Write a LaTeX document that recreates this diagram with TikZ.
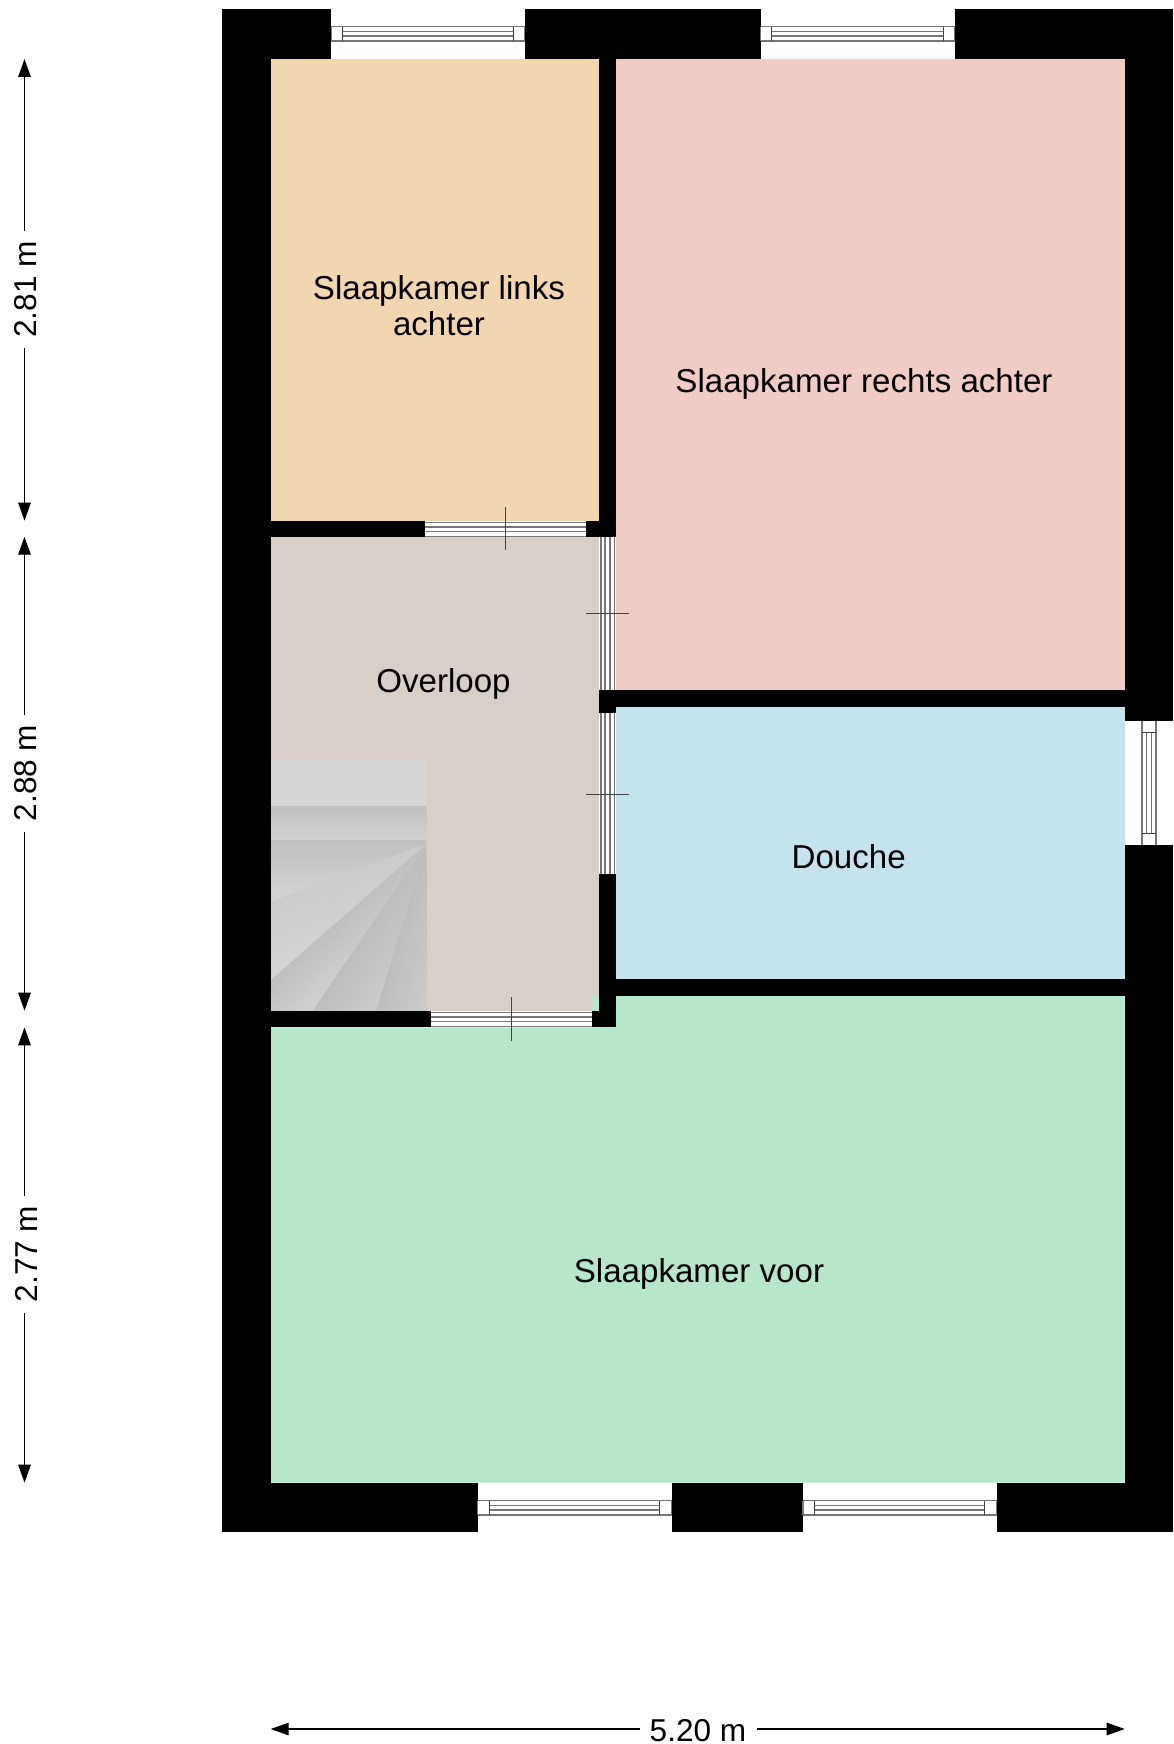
\documentclass[tikz,border=0pt]{standalone}
\usepackage{fontspec}
\setmainfont{Liberation Sans}
\usetikzlibrary{arrows.meta}
\definecolor{cLinks}{HTML}{F1D7AF}
\definecolor{cRechts}{HTML}{EFCCC6}
\definecolor{cOver}{HTML}{D8CFC9}
\definecolor{cDouche}{HTML}{C5E3EC}
\definecolor{cVoor}{HTML}{B6E7CB}
\definecolor{cLine}{HTML}{777777}
\definecolor{cTick}{HTML}{444444}
\definecolor{gLand}{HTML}{D5D5D5}
\definecolor{gA}{HTML}{C0C0C0}
\definecolor{gB}{HTML}{D1D1D1}
\definecolor{gC}{HTML}{CBCBCB}
\definecolor{gD}{HTML}{D4D4D4}
\definecolor{gE}{HTML}{BEBEBE}
\definecolor{gF}{HTML}{CCCCCC}
\tikzset{
  x=1pt,y=-1pt,
  wallbox/.style={fill=black,draw=none},
  roomlabel/.style={font=\fontsize{33.1}{36.5}\selectfont,align=center,text=black,inner sep=0pt},
  dimlabel/.style={font=\fontsize{31.6}{36}\selectfont,text=black,inner xsep=10pt,inner ysep=0pt},
  dimline/.style={draw=black,line width=1.3pt},
  dimtip/.style={{Stealth[length=18pt,width=12.5pt,inset=0pt]}-},
  winline/.style={draw=cLine,line width=1.1pt},
  winend/.style={draw=cTick,line width=1pt},
  doorline/.style={draw=cLine,line width=1.5pt},
  ticklin/.style={draw=cTick,line width=1pt},
}
% horizontal window: x1 x2 ix1 ix2 y1
\newcommand{\hwin}[5]{%
  \draw[winline] (#1,#5) -- (#2,#5) (#1,#5+14.3) -- (#2,#5+14.3);
  \draw[winline] (#3,#5+4.6) -- (#4,#5+4.6) (#3,#5+9.3) -- (#4,#5+9.3);
  \draw[winend] (#3,#5) -- (#3,#5+14.3) (#4,#5) -- (#4,#5+14.3);
  \draw[winline] (#1,#5) -- (#1,#5+14.3) (#2,#5) -- (#2,#5+14.3);
}
% door, horizontal: x1 x2 y1
\newcommand{\hdoor}[3]{%
  \fill[white] (#1,#3) rectangle (#2,#3+16.5);
  \foreach \o in {1.7,6.2,10.9,15.6} \draw[doorline] (#1,#3+\o) -- (#2,#3+\o);
}
% door, vertical: x1 y1 y2
\newcommand{\vdoor}[3]{%
  \fill[white] (#1,#2) rectangle (#1+16.5,#3);
  \foreach \o in {1.5,5.8,10.8,15.4} \draw[doorline] (#1+\o,#2) -- (#1+\o,#3);
}
% stair step drawn as bands: polygon, origin, edge angle, depth, dark, light
\newcommand{\bandstep}[6]{%
  \begin{scope}
    \clip #1 -- cycle;
    \begin{scope}[shift={#2},rotate=#3]
      \fill[#6] (-10,0) rectangle (280,-#4-300);
      \foreach \i in {0,...,23}{
        \pgfmathsetmacro{\pct}{100-\i*100/24}
        \pgfmathsetmacro{\ya}{\i*#4/24}
        \fill[#5!\pct!#6] (-10,-\ya) rectangle (280,-#4-300);
      }
    \end{scope}
  \end{scope}
}
\begin{document}
\begin{tikzpicture}
\useasboundingbox (0,0) rectangle (1173,1744);
\fill[white] (0,0) rectangle (1173,1744);

% rooms
\fill[cLinks]  (270.7,59) rectangle (599.3,520.7);
\fill[cRechts] (615.7,59) rectangle (1124.7,690);
\fill[cOver]   (270.7,536.7) rectangle (599.3,1010.7);
\fill[cDouche] (615.7,706.7) rectangle (1124.7,979.3);
\fill[cVoor]   (270.7,1027.3) -- (592.3,1027.3) -- (592.3,996) -- (1124.7,996) -- (1124.7,1482.7) -- (270.7,1482.7) -- cycle;

% stairs
\fill[gLand] (270.7,759.3) rectangle (426.3,805.7);
\bandstep{(270.7,805.7) -- (426.3,805.7) -- (426.3,840) -- (270.7,840)}{(436.3,805.7)}{180}{34.3}{gA}{gB}
\bandstep{(270.7,840) -- (426.3,840) -- (426.3,844) -- (270.7,901.7)}{(436.3,840)}{180}{61.7}{gA}{gD}
\bandstep{(426.3,844) -- (270.7,901.7) -- (270.7,980)}{(426.3,844)}{200.3}{74}{gC}{gD}
\bandstep{(426.3,844) -- (270.7,980) -- (270.7,1010.7) -- (312.7,1010.7)}{(426.3,844)}{221.2}{51}{gA}{gB}
\bandstep{(426.3,844) -- (312.7,1010.7) -- (376.3,1010.7)}{(426.3,844)}{235.7}{53}{gE}{gF}
\bandstep{(426.3,844) -- (376.3,1010.7) -- (426.3,1010.7)}{(426.3,844)}{253.3}{48}{gE}{gF}

% outer walls
\fill[wallbox] (221.5,9.5) rectangle (270.7,1532);
\fill[wallbox] (221.5,9.5) rectangle (331.3,59);
\fill[wallbox] (524.7,9.5) rectangle (760.5,59);
\fill[wallbox] (954.7,9.5) rectangle (1173,59);
\fill[wallbox] (1124.7,9.5) rectangle (1173,720.7);
\fill[wallbox] (1124.7,844.5) rectangle (1173,1532);
\fill[wallbox] (221.5,1482.7) rectangle (477.5,1532);
\fill[wallbox] (671.5,1482.7) rectangle (803,1532);
\fill[wallbox] (996.7,1482.7) rectangle (1173,1532);

% inner walls
\fill[wallbox] (599.3,59) rectangle (615.7,536.7);
\fill[wallbox] (270.7,520.7) rectangle (425,536.7);
\fill[wallbox] (585.7,520.7) rectangle (615.7,536.7);
\fill[wallbox] (599.3,690) rectangle (1124.7,706.7);
\fill[wallbox] (599.3,690) rectangle (615.7,712.7);
\fill[wallbox] (599.3,874.3) rectangle (615.7,1027.3);
\fill[wallbox] (615.7,979.3) rectangle (1124.7,996);
\fill[wallbox] (270.7,1010.7) rectangle (431,1027.3);
\fill[wallbox] (592.3,1010.7) rectangle (615.7,1027.3);

% windows
\hwin{331.3}{524.7}{342.7}{513.3}{26.7}
\hwin{760.5}{954.7}{771.6}{943.4}{26.7}
\hwin{477.5}{671.5}{489.8}{659.7}{1500.7}
\hwin{803}{996.7}{814.3}{984.9}{1500.7}
\draw[winline] (1142,720.7) -- (1142,844.5) (1156,720.7) -- (1156,844.5);
\draw[winline] (1146.7,732) -- (1146.7,833.3) (1151.3,732) -- (1151.3,833.3);
\draw[winend] (1142,732) -- (1156,732) (1142,833.3) -- (1156,833.3);

% doors
\hdoor{425}{585.7}{520.7}
\vdoor{599.3}{536.7}{690}
\vdoor{599.3}{712.7}{874.3}
\hdoor{431}{592.3}{1010.7}
\draw[ticklin] (505.7,507.3) -- (505.7,550);
\draw[ticklin] (586,613) -- (628.7,613);
\draw[ticklin] (586,794) -- (628.7,794);
\draw[ticklin] (511.7,997.3) -- (511.7,1040.7);

% labels
\node[roomlabel] (links) at (439,305.5) {Slaapkamer links\\achter};
\node[roomlabel] (rechts) at (864,384) {Slaapkamer rechts achter};
\node[roomlabel] (over) at (443.5,684) {Overloop};
\node[roomlabel] (douche) at (848.7,856.5) {Douche};
\node[roomlabel] (voor) at (699,1274) {Slaapkamer voor};

% dimensions
\coordinate (a1) at (24.5,59);
\coordinate (b1) at (24.5,520.7);
\node[dimlabel,rotate=90] (d1) at (26,289.5) {2.81 m};
\draw[dimline,dimtip] (a1) -- (a1|-d1.east);
\draw[dimline,dimtip] (b1) -- (b1|-d1.west);
\coordinate (a2) at (24.5,536.7);
\coordinate (b2) at (24.5,1010.7);
\node[dimlabel,rotate=90] (d2) at (26,773) {2.88 m};
\draw[dimline,dimtip] (a2) -- (a2|-d2.east);
\draw[dimline,dimtip] (b2) -- (b2|-d2.west);
\coordinate (a3) at (24.5,1027.3);
\coordinate (b3) at (24.5,1482.7);
\node[dimlabel,rotate=90] (d3) at (26,1254) {2.77 m};
\draw[dimline,dimtip] (a3) -- (a3|-d3.east);
\draw[dimline,dimtip] (b3) -- (b3|-d3.west);
\coordinate (a4) at (270.7,1729);
\coordinate (b4) at (1124.7,1729);
\node[dimlabel] (d4) at (698,1731) {5.20 m};
\draw[dimline,dimtip] (a4) -- (a4-|d4.west);
\draw[dimline,dimtip] (b4) -- (b4-|d4.east);
\end{tikzpicture}
\end{document}
